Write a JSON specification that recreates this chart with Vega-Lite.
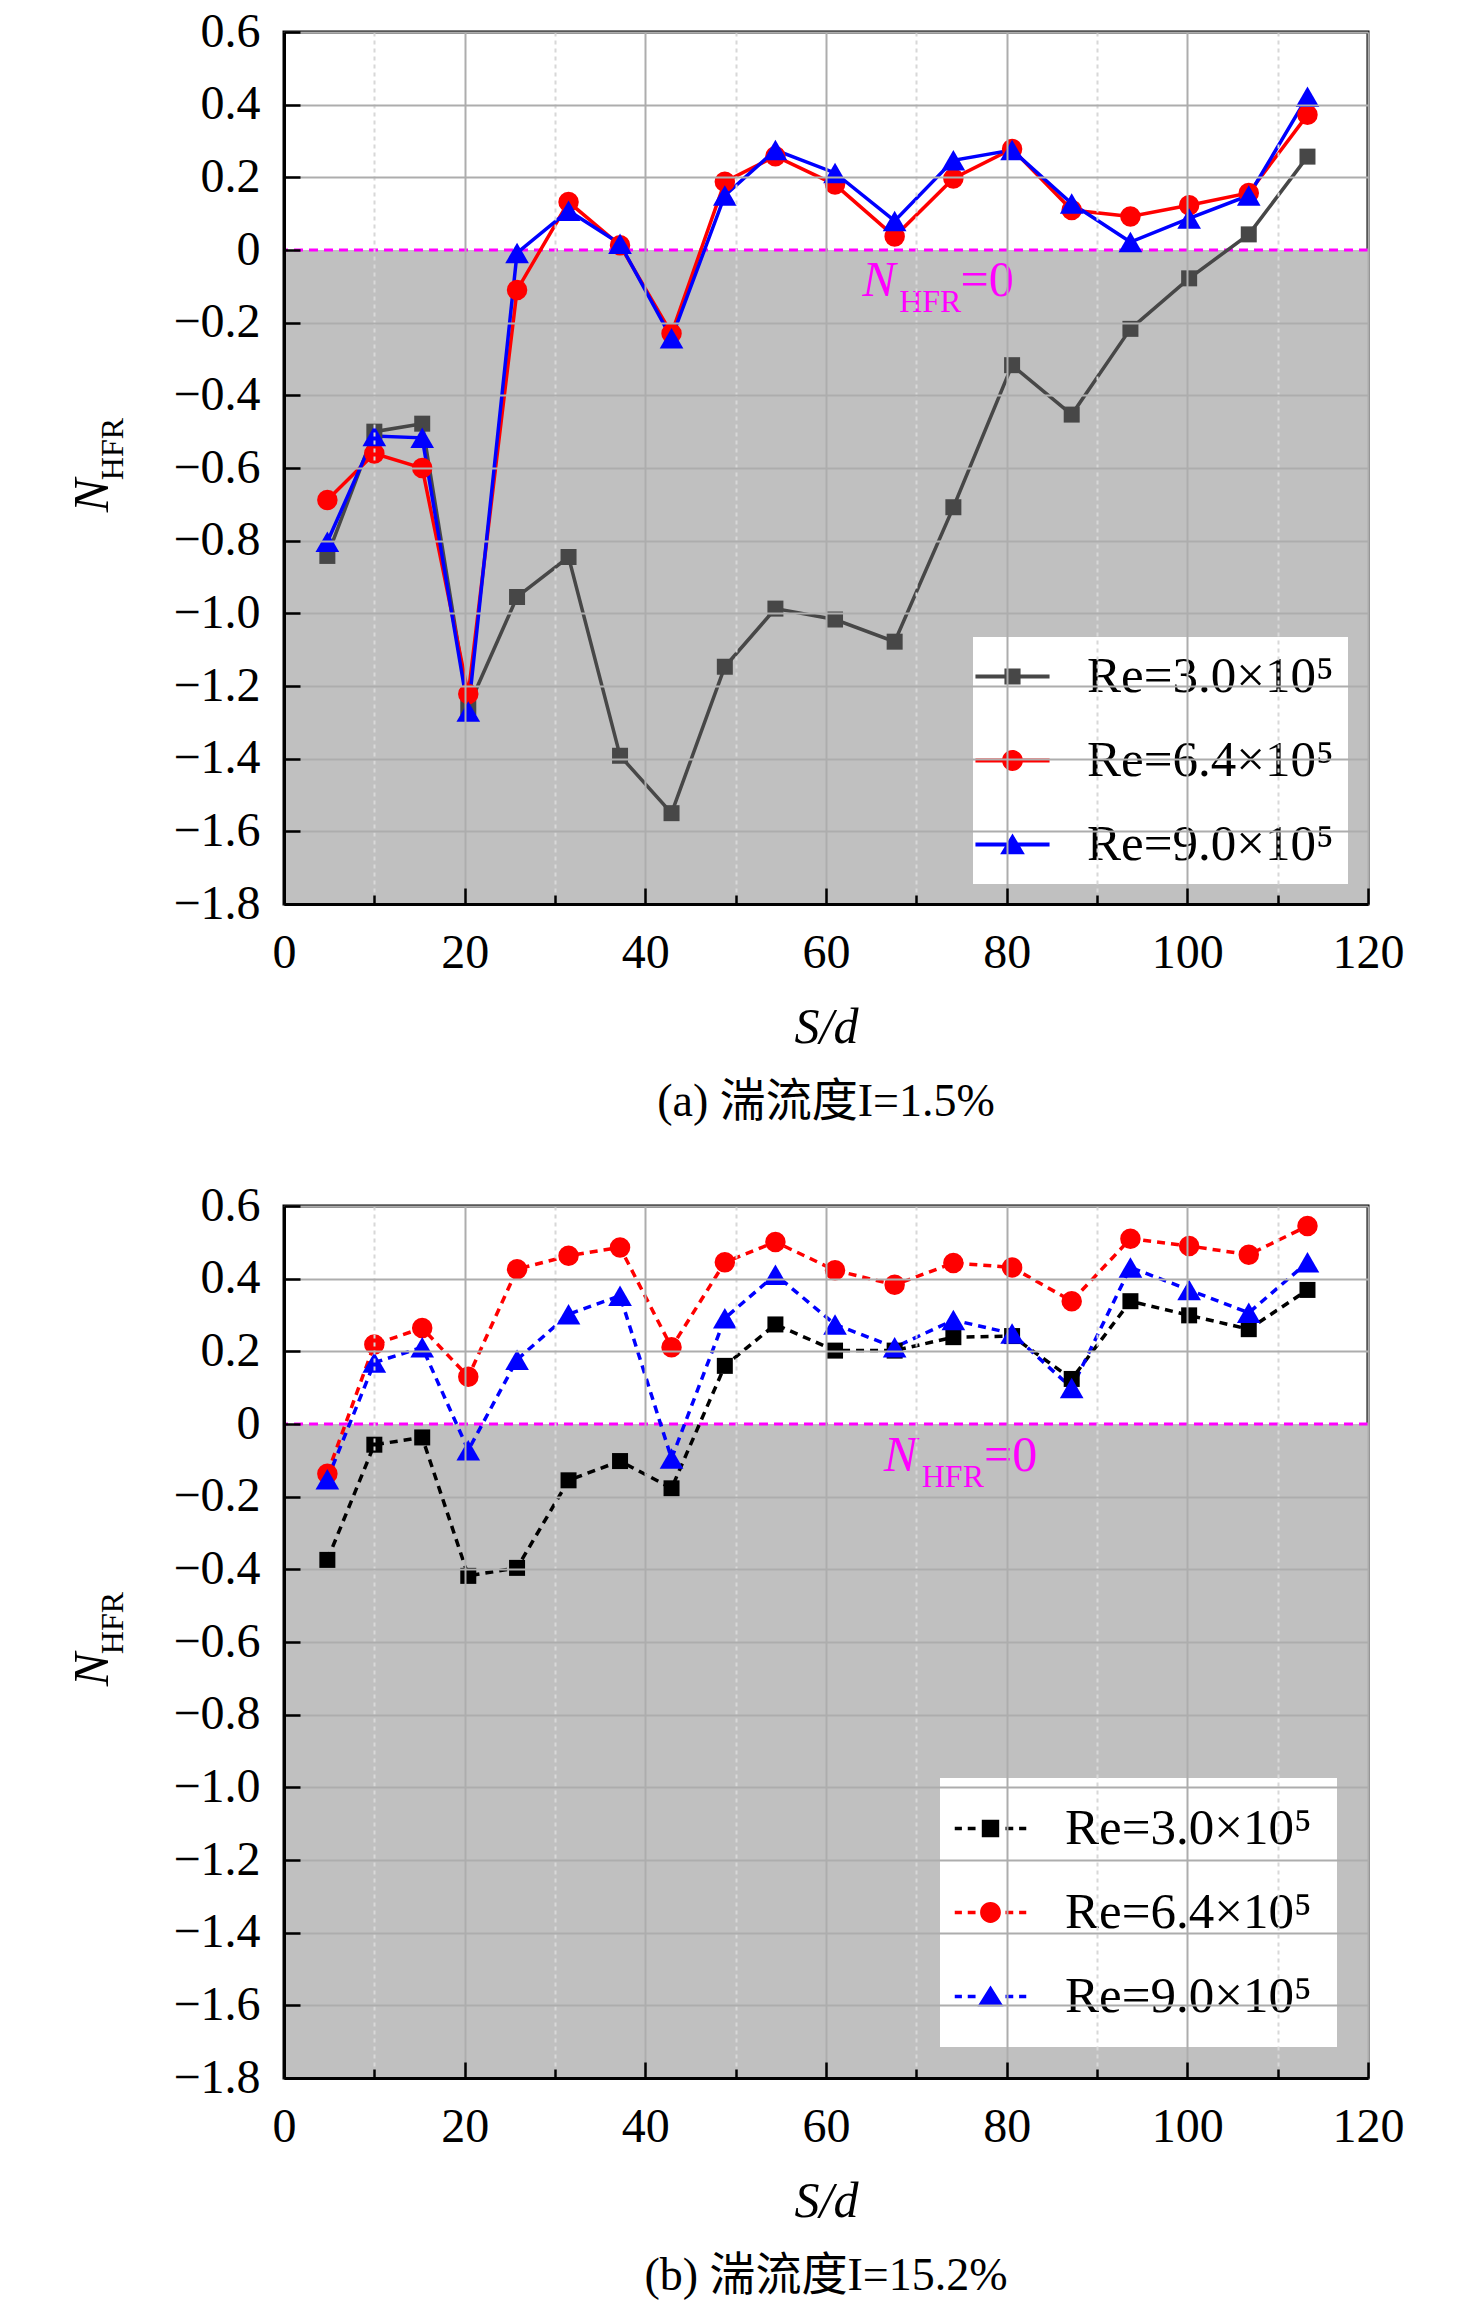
{
  "$schema": "https://vega.github.io/schema/vega-lite/v6.json",
  "padding": {"left": 66, "top": 6, "right": 10, "bottom": 10},
  "background": "white",
  "datasets": {
    "a": [
      {"Sd": 4.8, "Re": "Re=3.0×10⁵", "N": -0.842}, {"Sd": 10.0, "Re": "Re=3.0×10⁵", "N": -0.5}, {"Sd": 15.3, "Re": "Re=3.0×10⁵", "N": -0.478},
      {"Sd": 20.4, "Re": "Re=3.0×10⁵", "N": -1.258}, {"Sd": 25.8, "Re": "Re=3.0×10⁵", "N": -0.955}, {"Sd": 31.5, "Re": "Re=3.0×10⁵", "N": -0.845},
      {"Sd": 37.2, "Re": "Re=3.0×10⁵", "N": -1.392}, {"Sd": 42.9, "Re": "Re=3.0×10⁵", "N": -1.55}, {"Sd": 48.8, "Re": "Re=3.0×10⁵", "N": -1.147},
      {"Sd": 54.4, "Re": "Re=3.0×10⁵", "N": -0.987}, {"Sd": 61.0, "Re": "Re=3.0×10⁵", "N": -1.017}, {"Sd": 67.6, "Re": "Re=3.0×10⁵", "N": -1.078},
      {"Sd": 74.1, "Re": "Re=3.0×10⁵", "N": -0.708}, {"Sd": 80.6, "Re": "Re=3.0×10⁵", "N": -0.317}, {"Sd": 87.2, "Re": "Re=3.0×10⁵", "N": -0.453},
      {"Sd": 93.7, "Re": "Re=3.0×10⁵", "N": -0.217}, {"Sd": 100.2, "Re": "Re=3.0×10⁵", "N": -0.078}, {"Sd": 106.8, "Re": "Re=3.0×10⁵", "N": 0.043},
      {"Sd": 113.3, "Re": "Re=3.0×10⁵", "N": 0.257},
      {"Sd": 4.8, "Re": "Re=6.4×10⁵", "N": -0.688}, {"Sd": 10.0, "Re": "Re=6.4×10⁵", "N": -0.56}, {"Sd": 15.3, "Re": "Re=6.4×10⁵", "N": -0.6},
      {"Sd": 20.4, "Re": "Re=6.4×10⁵", "N": -1.222}, {"Sd": 25.8, "Re": "Re=6.4×10⁵", "N": -0.11}, {"Sd": 31.5, "Re": "Re=6.4×10⁵", "N": 0.132},
      {"Sd": 37.2, "Re": "Re=6.4×10⁵", "N": 0.013}, {"Sd": 42.9, "Re": "Re=6.4×10⁵", "N": -0.23}, {"Sd": 48.8, "Re": "Re=6.4×10⁵", "N": 0.188},
      {"Sd": 54.4, "Re": "Re=6.4×10⁵", "N": 0.258}, {"Sd": 61.0, "Re": "Re=6.4×10⁵", "N": 0.18}, {"Sd": 67.6, "Re": "Re=6.4×10⁵", "N": 0.037},
      {"Sd": 74.1, "Re": "Re=6.4×10⁵", "N": 0.197}, {"Sd": 80.6, "Re": "Re=6.4×10⁵", "N": 0.278}, {"Sd": 87.2, "Re": "Re=6.4×10⁵", "N": 0.11},
      {"Sd": 93.7, "Re": "Re=6.4×10⁵", "N": 0.092}, {"Sd": 100.2, "Re": "Re=6.4×10⁵", "N": 0.123}, {"Sd": 106.8, "Re": "Re=6.4×10⁵", "N": 0.157},
      {"Sd": 113.3, "Re": "Re=6.4×10⁵", "N": 0.372},
      {"Sd": 4.8, "Re": "Re=9.0×10⁵", "N": -0.803}, {"Sd": 10.0, "Re": "Re=9.0×10⁵", "N": -0.512}, {"Sd": 15.3, "Re": "Re=9.0×10⁵", "N": -0.517},
      {"Sd": 20.4, "Re": "Re=9.0×10⁵", "N": -1.27}, {"Sd": 25.8, "Re": "Re=9.0×10⁵", "N": -0.008}, {"Sd": 31.5, "Re": "Re=9.0×10⁵", "N": 0.108},
      {"Sd": 37.2, "Re": "Re=9.0×10⁵", "N": 0.017}, {"Sd": 42.9, "Re": "Re=9.0×10⁵", "N": -0.243}, {"Sd": 48.8, "Re": "Re=9.0×10⁵", "N": 0.15},
      {"Sd": 54.4, "Re": "Re=9.0×10⁵", "N": 0.275}, {"Sd": 61.0, "Re": "Re=9.0×10⁵", "N": 0.212}, {"Sd": 67.6, "Re": "Re=9.0×10⁵", "N": 0.08},
      {"Sd": 74.1, "Re": "Re=9.0×10⁵", "N": 0.247}, {"Sd": 80.6, "Re": "Re=9.0×10⁵", "N": 0.275}, {"Sd": 87.2, "Re": "Re=9.0×10⁵", "N": 0.128},
      {"Sd": 93.7, "Re": "Re=9.0×10⁵", "N": 0.022}, {"Sd": 100.2, "Re": "Re=9.0×10⁵", "N": 0.087}, {"Sd": 106.8, "Re": "Re=9.0×10⁵", "N": 0.15},
      {"Sd": 113.3, "Re": "Re=9.0×10⁵", "N": 0.422}
    ],
    "b": [
      {"Sd": 4.8, "Re": "Re=3.0×10⁵", "N": -0.374}, {"Sd": 10.0, "Re": "Re=3.0×10⁵", "N": -0.057}, {"Sd": 15.3, "Re": "Re=3.0×10⁵", "N": -0.037},
      {"Sd": 20.4, "Re": "Re=3.0×10⁵", "N": -0.418}, {"Sd": 25.8, "Re": "Re=3.0×10⁵", "N": -0.396}, {"Sd": 31.5, "Re": "Re=3.0×10⁵", "N": -0.155},
      {"Sd": 37.2, "Re": "Re=3.0×10⁵", "N": -0.102}, {"Sd": 42.9, "Re": "Re=3.0×10⁵", "N": -0.177}, {"Sd": 48.8, "Re": "Re=3.0×10⁵", "N": 0.16},
      {"Sd": 54.4, "Re": "Re=3.0×10⁵", "N": 0.274}, {"Sd": 61.0, "Re": "Re=3.0×10⁵", "N": 0.202}, {"Sd": 67.6, "Re": "Re=3.0×10⁵", "N": 0.202},
      {"Sd": 74.1, "Re": "Re=3.0×10⁵", "N": 0.239}, {"Sd": 80.6, "Re": "Re=3.0×10⁵", "N": 0.242}, {"Sd": 87.2, "Re": "Re=3.0×10⁵", "N": 0.124},
      {"Sd": 93.7, "Re": "Re=3.0×10⁵", "N": 0.338}, {"Sd": 100.2, "Re": "Re=3.0×10⁵", "N": 0.299}, {"Sd": 106.8, "Re": "Re=3.0×10⁵", "N": 0.261},
      {"Sd": 113.3, "Re": "Re=3.0×10⁵", "N": 0.369},
      {"Sd": 4.8, "Re": "Re=6.4×10⁵", "N": -0.137}, {"Sd": 10.0, "Re": "Re=6.4×10⁵", "N": 0.219}, {"Sd": 15.3, "Re": "Re=6.4×10⁵", "N": 0.264},
      {"Sd": 20.4, "Re": "Re=6.4×10⁵", "N": 0.13}, {"Sd": 25.8, "Re": "Re=6.4×10⁵", "N": 0.426}, {"Sd": 31.5, "Re": "Re=6.4×10⁵", "N": 0.463},
      {"Sd": 37.2, "Re": "Re=6.4×10⁵", "N": 0.486}, {"Sd": 42.9, "Re": "Re=6.4×10⁵", "N": 0.211}, {"Sd": 48.8, "Re": "Re=6.4×10⁵", "N": 0.445},
      {"Sd": 54.4, "Re": "Re=6.4×10⁵", "N": 0.501}, {"Sd": 61.0, "Re": "Re=6.4×10⁵", "N": 0.423}, {"Sd": 67.6, "Re": "Re=6.4×10⁵", "N": 0.383},
      {"Sd": 74.1, "Re": "Re=6.4×10⁵", "N": 0.443}, {"Sd": 80.6, "Re": "Re=6.4×10⁵", "N": 0.431}, {"Sd": 87.2, "Re": "Re=6.4×10⁵", "N": 0.338},
      {"Sd": 93.7, "Re": "Re=6.4×10⁵", "N": 0.51}, {"Sd": 100.2, "Re": "Re=6.4×10⁵", "N": 0.49}, {"Sd": 106.8, "Re": "Re=6.4×10⁵", "N": 0.466},
      {"Sd": 113.3, "Re": "Re=6.4×10⁵", "N": 0.545},
      {"Sd": 4.8, "Re": "Re=9.0×10⁵", "N": -0.152}, {"Sd": 10.0, "Re": "Re=9.0×10⁵", "N": 0.169}, {"Sd": 15.3, "Re": "Re=9.0×10⁵", "N": 0.211},
      {"Sd": 20.4, "Re": "Re=9.0×10⁵", "N": -0.072}, {"Sd": 25.8, "Re": "Re=9.0×10⁵", "N": 0.177}, {"Sd": 31.5, "Re": "Re=9.0×10⁵", "N": 0.302},
      {"Sd": 37.2, "Re": "Re=9.0×10⁵", "N": 0.353}, {"Sd": 42.9, "Re": "Re=9.0×10⁵", "N": -0.095}, {"Sd": 48.8, "Re": "Re=9.0×10⁵", "N": 0.291},
      {"Sd": 54.4, "Re": "Re=9.0×10⁵", "N": 0.411}, {"Sd": 61.0, "Re": "Re=9.0×10⁵", "N": 0.274}, {"Sd": 67.6, "Re": "Re=9.0×10⁵", "N": 0.211},
      {"Sd": 74.1, "Re": "Re=9.0×10⁵", "N": 0.286}, {"Sd": 80.6, "Re": "Re=9.0×10⁵", "N": 0.249}, {"Sd": 87.2, "Re": "Re=9.0×10⁵", "N": 0.099},
      {"Sd": 93.7, "Re": "Re=9.0×10⁵", "N": 0.431}, {"Sd": 100.2, "Re": "Re=9.0×10⁵", "N": 0.369}, {"Sd": 106.8, "Re": "Re=9.0×10⁵", "N": 0.306},
      {"Sd": 113.3, "Re": "Re=9.0×10⁵", "N": 0.445}
    ]
  },
  "vconcat": [
    {
      "width": 1084,
      "height": 872,
      "data": {"name": "a"},
      "title": {"text": "(a) 湍流度I=1.5%", "orient": "bottom", "frame": "group", "offset": 28},
      "layer": [
        {
          "data": {"values": [{}]},
          "mark": {"type": "rect", "color": "#c0c0c0"},
          "encoding": {
            "x": {"datum": 0, "type": "quantitative"},
            "x2": {"datum": 120},
            "y": {"datum": -1.8, "type": "quantitative"},
            "y2": {"datum": 0}
          }
        },
        {
          "data": {"values": [{}]},
          "mark": {"type": "rule", "color": "#ff00ff", "strokeWidth": 3, "strokeDash": [9, 6]},
          "encoding": {"y": {"datum": 0, "type": "quantitative"}}
        },
        {
          "mark": {"type": "line", "strokeWidth": 3.5},
          "encoding": {
            "x": {
              "field": "Sd", "type": "quantitative",
              "scale": {"domain": [0, 120], "nice": false, "zero": false},
              "axis": {
                "title": "S/d", "titleFontStyle": "italic", "titlePadding": 18, "labelPadding": 41, "zindex": 1,
                "values": [0, 10, 20, 30, 40, 50, 60, 70, 80, 90, 100, 110, 120],
                "labelExpr": "datum.value % 20 == 0 ? datum.label : ''",
                "tickSize": {"condition": {"test": "datum.value % 20 == 0", "value": -16}, "value": -9},
                "gridDash": {"condition": {"test": "datum.value % 20 == 0", "value": []}, "value": [4, 4]},
                "gridColor": {"condition": {"test": "datum.value % 20 == 0", "value": "#adadad"}, "value": "#d8d8d8"}
              }
            },
            "y": {
              "field": "N", "type": "quantitative",
              "scale": {"domain": [-1.8, 0.6], "nice": false, "zero": false},
              "axis": {
                "title": null, "labelPadding": 40, "zindex": 1,
                "values": [-1.8, -1.7, -1.6, -1.5, -1.4, -1.3, -1.2, -1.1, -1.0, -0.9, -0.8, -0.7, -0.6, -0.5, -0.4, -0.3, -0.2, -0.1, 0, 0.1, 0.2, 0.3, 0.4, 0.5, 0.6],
                "labelExpr": "abs(round(datum.value * 10)) % 2 == 1 ? '' : (datum.value == 0 ? '0' : format(datum.value, '.1f'))",
                "tickSize": {"condition": {"test": "abs(round(datum.value * 10)) % 2 == 0", "value": -16}, "value": -8},
                "gridDash": {"condition": {"test": "abs(round(datum.value * 10)) % 2 == 0", "value": []}, "value": [4, 4]},
                "gridColor": {"condition": {"test": "abs(round(datum.value * 10)) % 2 == 0", "value": "#adadad"}, "value": "#d8d8d8"},
                "gridOpacity": {"condition": {"test": "datum.value == 0", "value": 0}, "value": 1}
              }
            },
            "stroke": {"field": "Re", "type": "nominal", "scale": {"range": ["#474747", "#ff0000", "#0000ff"]}, "legend": null}
          }
        },
        {
          "transform": [{"filter": {"field": "Re", "equal": "Re=3.0×10⁵"}}],
          "mark": {"type": "point", "filled": true, "opacity": 1, "shape": "square", "size": 256, "color": "#474747"},
          "encoding": {"x": {"field": "Sd", "type": "quantitative"}, "y": {"field": "N", "type": "quantitative"}}
        },
        {
          "transform": [{"filter": {"field": "Re", "equal": "Re=6.4×10⁵"}}],
          "mark": {"type": "point", "filled": true, "opacity": 1, "shape": "circle", "size": 420, "color": "#ff0000"},
          "encoding": {"x": {"field": "Sd", "type": "quantitative"}, "y": {"field": "N", "type": "quantitative"}}
        },
        {
          "transform": [{"filter": {"field": "Re", "equal": "Re=9.0×10⁵"}}],
          "mark": {"type": "point", "filled": true, "opacity": 1, "shape": "triangle-up", "size": 560, "color": "#0000ff"},
          "encoding": {"x": {"field": "Sd", "type": "quantitative"}, "y": {"field": "N", "type": "quantitative"}}
        },
        {
          "mark": {"type": "point", "filled": true, "opacity": 0},
          "encoding": {
            "x": {"field": "Sd", "type": "quantitative"},
            "y": {"field": "N", "type": "quantitative"},
            "color": {"field": "Re", "type": "nominal", "scale": {"range": ["#474747", "#ff0000", "#0000ff"]}, "legend": {"offset": 20, "padding": 14, "rowPadding": 32}},
            "shape": {
              "field": "Re", "type": "nominal", "legend": {"offset": 20, "padding": 14, "rowPadding": 32},
              "scale": {"range": [
                "M-2.85,-0.15H2.85V0.15H-2.85Z M-0.62,-0.62H0.62V0.62H-0.62Z",
                "M-2.85,-0.15H2.85V0.15H-2.85Z M-0.8,0A0.8,0.8 0 1,1 0.8,0A0.8,0.8 0 1,1 -0.8,0Z",
                "M-2.85,-0.15H2.85V0.15H-2.85Z M0,-0.85L0.95,0.75H-0.95Z"
              ]}
            }
          }
        },
        {
          "data": {"values": [{}]},
          "mark": {"type": "text", "text": "N", "fontSize": 50, "fontStyle": "italic", "color": "#ff00ff", "align": "left", "baseline": "middle"},
          "encoding": {"x": {"datum": 64.0, "type": "quantitative"}, "y": {"datum": -0.085, "type": "quantitative"}}
        },
        {
          "data": {"values": [{}]},
          "mark": {"type": "text", "text": "HFR", "fontSize": 32, "color": "#ff00ff", "align": "left", "baseline": "middle"},
          "encoding": {"x": {"datum": 68.1, "type": "quantitative"}, "y": {"datum": -0.142, "type": "quantitative"}}
        },
        {
          "data": {"values": [{}]},
          "mark": {"type": "text", "text": "=0", "fontSize": 50, "color": "#ff00ff", "align": "left", "baseline": "middle"},
          "encoding": {"x": {"datum": 74.9, "type": "quantitative"}, "y": {"datum": -0.085, "type": "quantitative"}}
        },
        {
          "data": {"values": [{}]},
          "mark": {"type": "text", "text": "N", "fontSize": 50, "fontStyle": "italic", "color": "black", "align": "center", "baseline": "middle", "angle": 270},
          "encoding": {"x": {"datum": -21.1, "type": "quantitative"}, "y": {"datum": -0.676, "type": "quantitative"}}
        },
        {
          "data": {"values": [{}]},
          "mark": {"type": "text", "text": "HFR", "fontSize": 32, "color": "black", "align": "center", "baseline": "middle", "angle": 270},
          "encoding": {"x": {"datum": -18.9, "type": "quantitative"}, "y": {"datum": -0.548, "type": "quantitative"}}
        }
      ]
    },
    {
      "width": 1084,
      "height": 872,
      "data": {"name": "b"},
      "title": {"text": "(b) 湍流度I=15.2%", "orient": "bottom", "frame": "group", "offset": 28},
      "layer": [
        {
          "data": {"values": [{}]},
          "mark": {"type": "rect", "color": "#c0c0c0"},
          "encoding": {
            "x": {"datum": 0, "type": "quantitative"},
            "x2": {"datum": 120},
            "y": {"datum": -1.8, "type": "quantitative"},
            "y2": {"datum": 0}
          }
        },
        {
          "data": {"values": [{}]},
          "mark": {"type": "rule", "color": "#ff00ff", "strokeWidth": 3, "strokeDash": [9, 6]},
          "encoding": {"y": {"datum": 0, "type": "quantitative"}}
        },
        {
          "mark": {"type": "line", "strokeWidth": 3.5, "strokeDash": [8, 6]},
          "encoding": {
            "x": {
              "field": "Sd", "type": "quantitative",
              "scale": {"domain": [0, 120], "nice": false, "zero": false},
              "axis": {
                "title": "S/d", "titleFontStyle": "italic", "titlePadding": 18, "labelPadding": 41, "zindex": 1,
                "values": [0, 10, 20, 30, 40, 50, 60, 70, 80, 90, 100, 110, 120],
                "labelExpr": "datum.value % 20 == 0 ? datum.label : ''",
                "tickSize": {"condition": {"test": "datum.value % 20 == 0", "value": -16}, "value": -9},
                "gridDash": {"condition": {"test": "datum.value % 20 == 0", "value": []}, "value": [4, 4]},
                "gridColor": {"condition": {"test": "datum.value % 20 == 0", "value": "#adadad"}, "value": "#d8d8d8"}
              }
            },
            "y": {
              "field": "N", "type": "quantitative",
              "scale": {"domain": [-1.8, 0.6], "nice": false, "zero": false},
              "axis": {
                "title": null, "labelPadding": 40, "zindex": 1,
                "values": [-1.8, -1.7, -1.6, -1.5, -1.4, -1.3, -1.2, -1.1, -1.0, -0.9, -0.8, -0.7, -0.6, -0.5, -0.4, -0.3, -0.2, -0.1, 0, 0.1, 0.2, 0.3, 0.4, 0.5, 0.6],
                "labelExpr": "abs(round(datum.value * 10)) % 2 == 1 ? '' : (datum.value == 0 ? '0' : format(datum.value, '.1f'))",
                "tickSize": {"condition": {"test": "abs(round(datum.value * 10)) % 2 == 0", "value": -16}, "value": -8},
                "gridDash": {"condition": {"test": "abs(round(datum.value * 10)) % 2 == 0", "value": []}, "value": [4, 4]},
                "gridColor": {"condition": {"test": "abs(round(datum.value * 10)) % 2 == 0", "value": "#adadad"}, "value": "#d8d8d8"},
                "gridOpacity": {"condition": {"test": "datum.value == 0", "value": 0}, "value": 1}
              }
            },
            "stroke": {"field": "Re", "type": "nominal", "scale": {"range": ["#000000", "#ff0000", "#0000ff"]}, "legend": null}
          }
        },
        {
          "transform": [{"filter": {"field": "Re", "equal": "Re=3.0×10⁵"}}],
          "mark": {"type": "point", "filled": true, "opacity": 1, "shape": "square", "size": 256, "color": "#000000"},
          "encoding": {"x": {"field": "Sd", "type": "quantitative"}, "y": {"field": "N", "type": "quantitative"}}
        },
        {
          "transform": [{"filter": {"field": "Re", "equal": "Re=6.4×10⁵"}}],
          "mark": {"type": "point", "filled": true, "opacity": 1, "shape": "circle", "size": 420, "color": "#ff0000"},
          "encoding": {"x": {"field": "Sd", "type": "quantitative"}, "y": {"field": "N", "type": "quantitative"}}
        },
        {
          "transform": [{"filter": {"field": "Re", "equal": "Re=9.0×10⁵"}}],
          "mark": {"type": "point", "filled": true, "opacity": 1, "shape": "triangle-up", "size": 560, "color": "#0000ff"},
          "encoding": {"x": {"field": "Sd", "type": "quantitative"}, "y": {"field": "N", "type": "quantitative"}}
        },
        {
          "mark": {"type": "point", "filled": true, "opacity": 0},
          "encoding": {
            "x": {"field": "Sd", "type": "quantitative"},
            "y": {"field": "N", "type": "quantitative"},
            "color": {"field": "Re", "type": "nominal", "scale": {"range": ["#000000", "#ff0000", "#0000ff"]}, "legend": {"offset": 31, "padding": 25, "rowPadding": 32}},
            "shape": {
              "field": "Re", "type": "nominal", "legend": {"offset": 31, "padding": 25, "rowPadding": 32},
              "scale": {"range": [
                "M-2.75,-0.14H-2.2V0.14H-2.75Z M-1.75,-0.14H-1.15V0.14H-1.75Z M1.15,-0.14H1.75V0.14H1.15Z M2.2,-0.14H2.75V0.14H2.2Z M-0.67,-0.67H0.67V0.67H-0.67Z",
                "M-2.75,-0.14H-2.2V0.14H-2.75Z M-1.75,-0.14H-1.15V0.14H-1.75Z M1.15,-0.14H1.75V0.14H1.15Z M2.2,-0.14H2.75V0.14H2.2Z M-0.8,0A0.8,0.8 0 1,1 0.8,0A0.8,0.8 0 1,1 -0.8,0Z",
                "M-2.75,-0.14H-2.2V0.14H-2.75Z M-1.75,-0.14H-1.15V0.14H-1.75Z M1.15,-0.14H1.75V0.14H1.15Z M2.2,-0.14H2.75V0.14H2.2Z M0,-0.85L1.0,0.75H-1.0Z"
              ]}
            }
          }
        },
        {
          "data": {"values": [{}]},
          "mark": {"type": "text", "text": "N", "fontSize": 50, "fontStyle": "italic", "color": "#ff00ff", "align": "left", "baseline": "middle"},
          "encoding": {"x": {"datum": 66.4, "type": "quantitative"}, "y": {"datum": -0.089, "type": "quantitative"}}
        },
        {
          "data": {"values": [{}]},
          "mark": {"type": "text", "text": "HFR", "fontSize": 32, "color": "#ff00ff", "align": "left", "baseline": "middle"},
          "encoding": {"x": {"datum": 70.6, "type": "quantitative"}, "y": {"datum": -0.147, "type": "quantitative"}}
        },
        {
          "data": {"values": [{}]},
          "mark": {"type": "text", "text": "=0", "fontSize": 50, "color": "#ff00ff", "align": "left", "baseline": "middle"},
          "encoding": {"x": {"datum": 77.5, "type": "quantitative"}, "y": {"datum": -0.089, "type": "quantitative"}}
        },
        {
          "data": {"values": [{}]},
          "mark": {"type": "text", "text": "N", "fontSize": 50, "fontStyle": "italic", "color": "black", "align": "center", "baseline": "middle", "angle": 270},
          "encoding": {"x": {"datum": -21.1, "type": "quantitative"}, "y": {"datum": -0.676, "type": "quantitative"}}
        },
        {
          "data": {"values": [{}]},
          "mark": {"type": "text", "text": "HFR", "fontSize": 32, "color": "black", "align": "center", "baseline": "middle", "angle": 270},
          "encoding": {"x": {"datum": -18.9, "type": "quantitative"}, "y": {"datum": -0.548, "type": "quantitative"}}
        }
      ]
    }
  ],
  "spacing": 53,
  "resolve": {
    "scale": {"x": "independent", "y": "independent", "color": "independent", "shape": "independent", "stroke": "independent"}
  },
  "config": {
    "font": "Liberation Serif",
    "view": {"stroke": "black", "strokeWidth": 3},
    "axis": {
      "labelFont": "Liberation Serif", "labelFontSize": 48, "labelColor": "black",
      "titleFont": "Liberation Serif", "titleFontSize": 50, "titleFontWeight": "normal", "titleColor": "black",
      "domainColor": "black", "domainWidth": 3, "tickColor": "black", "tickWidth": 2.5,
      "grid": true, "gridWidth": 2, "labelFlush": false, "labelOverlap": false
    },
    "legend": {
      "orient": "bottom-right", "title": null, "fillColor": "white", "padding": 16, "labelLimit": 0,
      "labelFont": "Liberation Serif", "labelFontSize": 51, "labelColor": "black",
      "symbolSize": 676, "symbolStrokeWidth": 0, "symbolOpacity": 1, "symbolOffset": 0, "labelOffset": 49, "rowPadding": 32
    },
    "title": {"font": "Liberation Serif, Noto Sans CJK SC", "fontSize": 46, "fontWeight": "normal", "color": "black"}
  }
}
